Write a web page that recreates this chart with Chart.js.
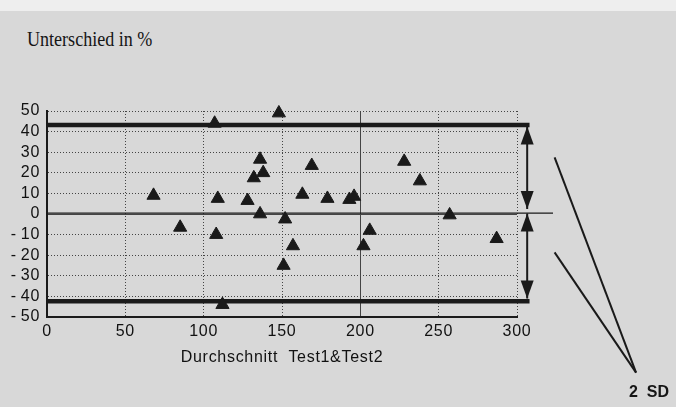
<!DOCTYPE html>
<html>
<head>
<meta charset="utf-8">
<script src="https://cdn.jsdelivr.net/npm/chart.js@4.4.1/dist/chart.umd.min.js"></script>
<style>
  html, body { margin: 0; padding: 0; background: #d8d8d8; }
  #wrap { position: relative; width: 676px; height: 407px; overflow: hidden; }
  #band { position: absolute; left: 0; top: 0; width: 676px; height: 11px; background: #eeeeee; }
  #titel { position: absolute; left: 27px; top: 29px; font-family: "Liberation Serif"; font-size: 21px;
           line-height: 1; color: #151515; white-space: nowrap; transform: scaleX(0.86); transform-origin: left top; }
  #sd { position: absolute; left: 629px; top: 384px; font: bold 16px/1 "Liberation Sans"; color: #151515; white-space: pre; }
  canvas { position: absolute; left: 0; top: 0; }
</style>
</head>
<body>
<div id="wrap">
  <div id="band"></div>
  <div id="titel">Unterschied in %</div>
  <canvas id="blandAltman" width="676" height="407"></canvas>
  <div id="sd">2  SD</div>
</div>
<script>
// Messwerte: Durchschnitt (x) und Unterschied in % (y)
const durchschnitt = [68, 85, 107, 109, 108, 112, 128, 132, 136, 138, 136, 148, 152, 151, 157,
                      163, 169, 179, 193, 196, 202, 206, 228, 238, 257, 287];
const unterschied  = [9, -6.5, 44, 7.5, -10, -44, 6.5, 17.5, 26.5, 20, 0, 49, -2.5, -25, -15.5,
                      9.5, 23.5, 7.5, 7, 8.5, -15.5, -8, 25.5, 16, -0.5, -12];

// Grenzen (Mittelwert +/- 2 SD)
const oberGrenze = 43.2;
const unterGrenze = -42.4;
const mittelwert = 0.4;
const linienEnde = [308, 0];        // x-Bereich der Grenzlinien
const mittelEnde = [323, 0];        // x-Bereich der Mittelwertlinie

// Doppelpfeile rechts
const pfeilX = 306.5;
const pfeilOben = [42.5, 2.4];
const pfeilUnten = [0.3, -41];

// Hinweislinien zu "2 SD"
const hinweisStart = [[324, 27.5], [324, -18.6]];
const hinweisZiel = [376, -77];

const xTicks = [0, 300, 50];   // min, max, step
const yTicks = [-50, 50, 10];

const punkte = durchschnitt.map((x, i) => ({ x: x, y: unterschied[i] }));
const ink = '#1a1a1a';

function linie(data, width) {
  return {
    type: 'line', data: data, borderColor: ink, borderWidth: width,
    pointRadius: 0, fill: false, clip: false, tension: 0
  };
}

// etwas gesperrte Schrift wie im Druck
const sperrung = {
  id: 'sperrung',
  beforeLayout(chart) { chart.ctx.letterSpacing = '0.7px'; },
  beforeDraw(chart) { chart.ctx.letterSpacing = '0.7px'; }
};

// Pfeilspitzen an den Pfeilenden
const pfeilSpitzen = {
  id: 'pfeilSpitzen',
  afterDatasetsDraw(chart) {
    const { ctx, scales: { x, y } } = chart;
    const px = x.getPixelForValue(pfeilX);
    const spitzen = [[pfeilOben[0], -1], [pfeilOben[1], 1], [pfeilUnten[0], -1], [pfeilUnten[1], 1]];
    ctx.save();
    ctx.fillStyle = ink;
    spitzen.forEach(([v, dir]) => {
      const py = y.getPixelForValue(v);
      ctx.beginPath();
      ctx.moveTo(px, py);
      ctx.lineTo(px - 6.5, py - dir * 18);
      ctx.lineTo(px + 6.5, py - dir * 18);
      ctx.closePath();
      ctx.fill();
    });
    ctx.restore();
  }
};

const dotted = c => (c.type === 'tick' && c.tick.value !== 200 && c.tick.value !== 0) ? [1, 2] : [];

new Chart(document.getElementById('blandAltman'), {
  type: 'scatter',
  data: {
    datasets: [
      {
        data: punkte, pointStyle: 'triangle', pointRadius: 7.6,
        backgroundColor: ink, borderColor: ink, borderWidth: 1, clip: false
      },
      linie([{ x: linienEnde[0], y: oberGrenze }, { x: linienEnde[1], y: oberGrenze }], 4.5),
      linie([{ x: linienEnde[0], y: unterGrenze }, { x: linienEnde[1], y: unterGrenze }], 4.5),
      linie([{ x: mittelEnde[0], y: mittelwert }, { x: mittelEnde[1], y: mittelwert }], 1.3),
      linie([{ x: pfeilX, y: pfeilOben[0] }, { x: pfeilX, y: pfeilOben[1] }], 2),
      linie([{ x: pfeilX, y: pfeilUnten[0] }, { x: pfeilX, y: pfeilUnten[1] }], 2),
      linie([{ x: hinweisZiel[0], y: hinweisZiel[1] }, { x: hinweisStart[0][0], y: hinweisStart[0][1] }], 2),
      linie([{ x: hinweisZiel[0], y: hinweisZiel[1] }, { x: hinweisStart[1][0], y: hinweisStart[1][1] }], 2)
    ]
  },
  options: {
    responsive: false,
    animation: false,
    layout: { padding: { left: 0, top: 111, right: 159, bottom: 40 } },
    plugins: { legend: { display: false }, tooltip: { enabled: false } },
    scales: {
      x: {
        type: 'linear', min: xTicks[0], max: xTicks[1],
        afterFit: s => { s.height = 50; },
        ticks: { stepSize: xTicks[2], padding: 5, color: '#111', font: { family: 'Liberation Sans', size: 16 } },
        grid: { drawTicks: false, color: '#444', lineWidth: 1 },
        border: { display: true, color: ink, width: 2, dash: dotted },
        title: {
          display: true, text: 'Durchschnitt  Test1&Test2', color: '#111',
          font: { family: 'Liberation Sans', size: 16 }, padding: { top: 0, bottom: 0 }
        }
      },
      y: {
        type: 'linear', min: yTicks[0], max: yTicks[1],
        afterFit: s => { s.width = 47; },
        ticks: {
          stepSize: yTicks[2], padding: 7, color: '#111', autoSkip: false,
          font: { family: 'Liberation Sans', size: 16 },
          callback: v => v < 0 ? '-\u2009' + Math.abs(v) : String(v)
        },
        grid: { drawTicks: false, color: '#444', lineWidth: 1 },
        border: { display: true, color: ink, width: 2, dash: dotted }
      }
    }
  },
  plugins: [sperrung, pfeilSpitzen]
});
</script>
</body>
</html>
